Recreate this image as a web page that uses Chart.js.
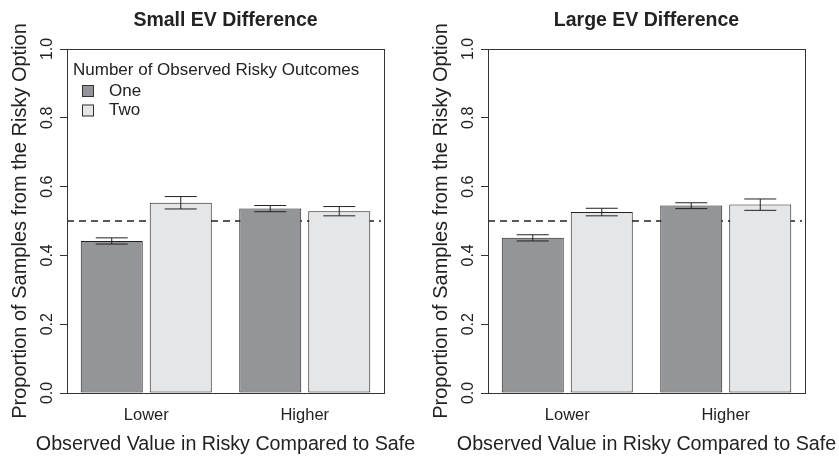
<!DOCTYPE html>
<html lang="en">

<head>
    <title>EV Difference</title>
    <meta charset="utf-8" />
    <script src="https://cdn.jsdelivr.net/npm/chart.js"></script>
    <style>
        body { margin: 0; background: #fff; }
        #izq, #der { position: absolute; top: 0; }
        #izq { left: 0; }
        #der { left: 421px; }
    </style>
</head>

<body>
    <canvas id="izq" width="418" height="456"></canvas>
    <canvas id="der" width="418" height="456"></canvas>

    <script>
        // datos
        const categorias = ["Lower", "Higher"];
        const series = ["One", "Two"];
        const referencia = 0.5;

        // Small EV Difference
        const smallOne = [0.442, 0.536];
        const smallOneLow = [0.433, 0.527];
        const smallOneHigh = [0.451, 0.545];
        const smallTwo = [0.553, 0.528];
        const smallTwoLow = [0.535, 0.515];
        const smallTwoHigh = [0.571, 0.542];

        // Large EV Difference
        const largeOne = [0.451, 0.545];
        const largeOneLow = [0.442, 0.536];
        const largeOneHigh = [0.460, 0.553];
        const largeTwo = [0.526, 0.548];
        const largeTwoLow = [0.515, 0.531];
        const largeTwoHigh = [0.537, 0.564];

        const colores = ["#949599", "#e5e6e8"];
        const tinta = "#222";
        const fuente = '"Liberation Sans", Arial, Helvetica, sans-serif';
        const tituloX = 'Observed Value in Risky Compared to Safe';

        Chart.defaults.font.family = fuente;
        Chart.defaults.color = tinta;

        const extras = {
            id: 'extras',
            beforeDatasetsDraw(chart) {
                const { ctx, chartArea: a, scales: { y } } = chart;
                const yy = y.getPixelForValue(referencia);
                ctx.save();
                ctx.setLineDash([7, 5]);
                ctx.lineWidth = 1.5;
                ctx.strokeStyle = tinta;
                ctx.beginPath();
                ctx.moveTo(a.left, yy);
                ctx.lineTo(a.right - 3, yy);
                ctx.stroke();
                ctx.restore();
            },
            afterDatasetsDraw(chart, args, opts) {
                const { ctx, chartArea: a, scales: { y } } = chart;
                ctx.save();
                // barras de error
                ctx.strokeStyle = tinta;
                ctx.lineWidth = 1;
                chart.data.datasets.forEach((ds, i) => {
                    chart.getDatasetMeta(i).data.forEach((bar, j) => {
                        const y1 = y.getPixelForValue(ds.lo[j]);
                        const y2 = y.getPixelForValue(ds.hi[j]);
                        ctx.beginPath();
                        ctx.moveTo(bar.x, y1);
                        ctx.lineTo(bar.x, y2);
                        ctx.moveTo(bar.x - 16, y1);
                        ctx.lineTo(bar.x + 16, y1);
                        ctx.moveTo(bar.x - 16, y2);
                        ctx.lineTo(bar.x + 16, y2);
                        ctx.stroke();
                    });
                });
                // marco
                ctx.strokeStyle = "#333";
                ctx.strokeRect(a.left + 0.5, a.top + 0.5, a.right - a.left, a.bottom - a.top);
                // etiquetas del eje y giradas
                ctx.fillStyle = tinta;
                ctx.font = '16px ' + fuente;
                ctx.textAlign = 'center';
                ctx.textBaseline = 'middle';
                y.ticks.forEach(t => {
                    ctx.save();
                    ctx.translate(48, y.getPixelForValue(t.value));
                    ctx.rotate(-Math.PI / 2);
                    ctx.fillText(t.label, 0, 0);
                    ctx.restore();
                });
                // titulo del eje x (mas ancho que el area)
                ctx.font = '19.7px ' + fuente;
                ctx.fillText(tituloX, (a.left + a.right) / 2, 445);
                ctx.restore();
            },
            afterDraw(chart, args, opts) {
                if (!opts.leyenda) return;
                const { ctx, chartArea: a } = chart;
                ctx.save();
                ctx.font = '17px ' + fuente;
                ctx.fillStyle = tinta;
                ctx.textBaseline = 'middle';
                ctx.fillText(opts.leyenda, a.left + 6, 70);
                chart.data.datasets.forEach((ds, i) => {
                    const cy = 91 + i * 19.5;
                    ctx.fillStyle = ds.backgroundColor;
                    ctx.fillRect(a.left + 15, cy - 6, 12, 12);
                    ctx.strokeStyle = "#333";
                    ctx.strokeRect(a.left + 15.5, cy - 5.5, 11, 11);
                    ctx.fillStyle = tinta;
                    ctx.fillText(ds.label, a.left + 42, cy);
                });
                ctx.restore();
            }
        };

        function crearGrafico(id, titulo, valores, bajos, altos, leyenda) {
            return new Chart(document.getElementById(id), {
                type: 'bar',
                data: {
                    labels: categorias,
                    datasets: series.map((s, i) => ({
                        label: s,
                        data: valores[i],
                        lo: bajos[i],
                        hi: altos[i],
                        backgroundColor: colores[i],
                        borderColor: tinta,
                        borderWidth: 1,
                        borderSkipped: false,
                        categoryPercentage: 0.8707,
                        barPercentage: 0.8986
                    }))
                },
                options: {
                    responsive: false,
                    animation: false,
                    layout: { padding: { left: 0, right: 34, top: 0, bottom: 0 } },
                    plugins: {
                        legend: { display: false },
                        tooltip: { enabled: false },
                        title: {
                            display: true,
                            text: titulo,
                            fullSize: false,
                            color: tinta,
                            font: { size: 19.5, weight: 'bold' },
                            padding: { top: 9.3, bottom: 16.3 }
                        },
                        extras: { leyenda: leyenda }
                    },
                    scales: {
                        x: {
                            grid: { display: false, drawTicks: false },
                            border: { display: false },
                            ticks: { font: { size: 16.5 }, padding: 13, color: tinta },
                            afterFit: s => { s.height = 63; }
                        },
                        y: {
                            min: 0,
                            max: 1,
                            ticks: {
                                stepSize: 0.2,
                                display: false,
                                callback: v => v.toFixed(1)
                            },
                            grid: { drawOnChartArea: false, tickLength: 7, color: '#333' },
                            border: { display: false },
                            title: {
                                display: true,
                                text: 'Proportion of Samples from the Risky Option',
                                font: { size: 20 },
                                color: tinta,
                                padding: { top: 8, bottom: 0 }
                            },
                            afterFit: s => { s.width = 67; }
                        }
                    }
                },
                plugins: [extras]
            });
        }

        crearGrafico('izq', 'Small EV Difference',
            [smallOne, smallTwo], [smallOneLow, smallTwoLow], [smallOneHigh, smallTwoHigh],
            'Number of Observed Risky Outcomes');
        crearGrafico('der', 'Large EV Difference',
            [largeOne, largeTwo], [largeOneLow, largeTwoLow], [largeOneHigh, largeTwoHigh],
            null);
    </script>
</body>

</html>
